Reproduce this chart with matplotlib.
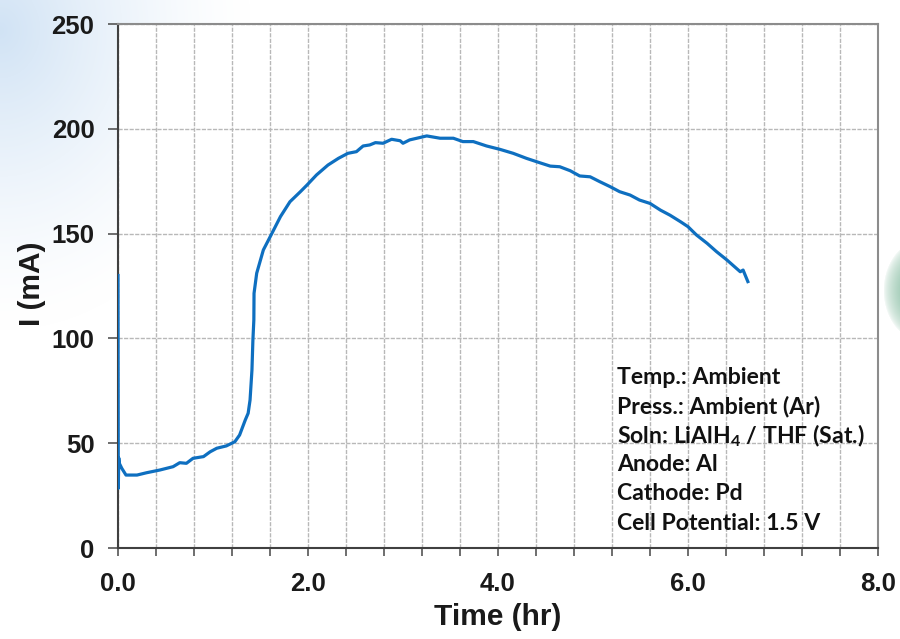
import numpy as np
import matplotlib
matplotlib.use("Agg")
import matplotlib.pyplot as plt
from matplotlib.ticker import MultipleLocator, FormatStrFormatter

# current vs time
time_hr = [0.0, 0.003, 0.008, 0.014, 0.04, 0.084, 0.20, 0.30, 0.44, 0.58,
           0.65, 0.72, 0.79, 0.90, 0.97, 1.04, 1.14, 1.23, 1.28, 1.34,
           1.37, 1.39, 1.41, 1.42, 1.43, 1.432, 1.46, 1.53, 1.62, 1.71,
           1.81, 1.92, 1.99, 2.09, 2.21, 2.32, 2.42, 2.51, 2.58, 2.65,
           2.71, 2.79, 2.88, 2.97, 3.00, 3.07, 3.25, 3.39, 3.53, 3.63,
           3.74, 3.88, 4.02, 4.16, 4.30, 4.44, 4.55, 4.65, 4.76, 4.86,
           4.97, 5.07, 5.18, 5.28, 5.39, 5.49, 5.60, 5.71, 5.81, 5.92,
           6.00, 6.09, 6.20, 6.30, 6.41, 6.49, 6.55, 6.58, 6.63]
current_mA = [130, 28.5, 43, 40.4, 38, 34.8, 34.8, 35.9, 37.2, 38.8,
              40.7, 40.4, 42.8, 43.6, 45.9, 47.6, 48.7, 50.7, 53.9, 61.1,
              64.3, 70.6, 84.9, 99.2, 108.8, 121.5, 131.1, 142.2, 150.1, 158.1,
              165.2, 170, 173.2, 178, 182.7, 185.9, 188.3, 189.1, 191.8, 192.3,
              193.4, 193.1, 195, 194.3, 193.1, 194.7, 196.6, 195.5, 195.5, 193.9,
              193.9, 191.8, 190.2, 188.3, 185.9, 183.8, 182.2, 181.9, 180, 177.5,
              177.1, 174.8, 172.4, 170, 168.4, 166, 164.4, 161.2, 158.8, 155.7,
              153.3, 149.3, 145.4, 141.4, 137.4, 134.2, 131.8, 132.6, 127.1]

conditions = ["Temp.: Ambient",
              "Press.: Ambient (Ar)",
              "Soln: LiAlH$_4$ / THF (Sat.)",
              "Anode: Al",
              "Cathode: Pd",
              "Cell Potential: 1.5 V"]

plt.rcParams['font.family'] = ['Liberation Sans', 'DejaVu Sans']
plt.rcParams['mathtext.default'] = 'regular'

fig = plt.figure(figsize=(9, 6.39), dpi=100)

# soft slide background: blue wash top-left, green blob on right edge
bg = fig.add_axes([0, 0, 1, 1], zorder=-5)
H, W = 639, 900
yy, xx = np.mgrid[0:H, 0:W]
img = np.ones((H, W, 3))
d = np.sqrt((xx / 250.0) ** 2 + ((yy - 30) / 300.0) ** 2)
a = np.clip(1 - d, 0, 1) ** 1.4
blue = np.array([0.82, 0.89, 0.96])
img = img * (1 - a[..., None]) + blue * a[..., None]
d2 = np.sqrt(((xx - 925) / 42.0) ** 2 + ((yy - 290) / 52.0) ** 2)
a2 = np.clip(1 - d2, 0, 1) ** 0.6
green = np.array([0.42, 0.68, 0.55])
img = img * (1 - a2[..., None]) + green * a2[..., None]
bg.imshow(img, aspect='auto', extent=[0, 1, 0, 1])
bg.axis('off')

ax = fig.add_axes([118 / 900, 1 - 548 / 639, 760 / 900, 524 / 639])
ax.set_facecolor('white')

ax.plot(time_hr, current_mA, color='#0E6FC0', lw=2.3, zorder=3)

ax.set_xlim(0, 8)
ax.set_ylim(0, 250)
ax.xaxis.set_major_locator(MultipleLocator(2))
ax.xaxis.set_minor_locator(MultipleLocator(0.4))
ax.xaxis.set_major_formatter(FormatStrFormatter('%.1f'))
ax.yaxis.set_major_locator(MultipleLocator(50))

ax.grid(True, which='both', axis='x', color='#b8b8b8', lw=1.0, ls=(0, (3, 1)))
ax.grid(True, which='major', axis='y', color='#b8b8b8', lw=1.0, ls=(0, (3, 1)))
ax.set_axisbelow(True)

ax.tick_params(axis='both', which='both', direction='out', color='#555555', width=1.2)
ax.tick_params(axis='x', which='both', length=6, pad=11)
ax.tick_params(axis='y', length=7, pad=10)
ax.tick_params(labelsize=18.5, labelcolor='#1a1a1a')
for lab in ax.get_xticklabels() + ax.get_yticklabels():
    lab.set_fontweight('bold')

for s in ['left', 'bottom']:
    ax.spines[s].set_color('#404040')
    ax.spines[s].set_linewidth(1.5)
for s in ['top', 'right']:
    ax.spines[s].set_color('#8c8c8c')
    ax.spines[s].set_linewidth(1.5)

ax.set_xlabel('Time (hr)', fontsize=21.5, fontweight='bold', color='#1a1a1a')
ax.set_ylabel('I (mA)', fontsize=21.5, fontweight='bold', color='#1a1a1a')
ax.xaxis.set_label_coords(0.5, -0.105)
ax.yaxis.set_label_coords(-0.095, 0.505)

# conditions block, one line at a time (axes fraction)
y0 = 1 - (377 - 24) / 524
step = 29.2 / 524
for i, line in enumerate(conditions):
    ax.text((617 - 118) / 760, y0 - i * step, line, transform=ax.transAxes,
            fontsize=16.6, fontweight='bold', family=['Lato', 'DejaVu Sans'],
            color='#111111', va='center', ha='left')

fig.savefig('out.png', dpi=100)
